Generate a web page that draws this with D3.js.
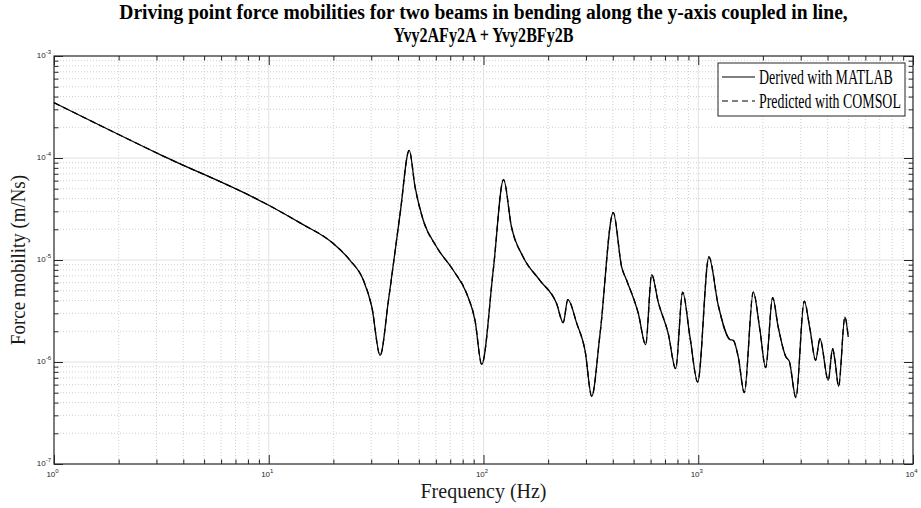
<!DOCTYPE html>
<html>
<head>
<meta charset="utf-8">
<script src="https://cdn.jsdelivr.net/npm/d3@7"></script>
<style>
  body { margin: 0; background: #fff; }
  svg { display: block; }
</style>
</head>
<body>
<svg id="chart" width="921" height="508"></svg>
<script>
// Driving point force mobility of two in-line coupled beams (bending, y-axis)
const freqHz = [
  1, 3.12, 10, 13.99, 19.98, 23.9, 27.6, 30.2, 33.0, 36.1,
  40.9, 45.1, 48.0, 52.4, 60.5, 72.3, 83.5, 91.3, 98.1, 111,
  124, 135, 153, 183, 219, 235, 247, 272, 297, 319,
  349, 402, 440, 464, 526, 569, 607, 651, 725, 785,
  846, 915, 994, 1121, 1239, 1405, 1456, 1536, 1638, 1804,
  1938, 2060, 2220, 2357, 2561, 2653, 2850, 3115, 3311, 3521,
  3687, 4030, 4224, 4329, 4504, 4819, 4993
];
const matlabMobility = [
  3.49e-4, 1.08e-4, 3.44e-5, 2.31e-5, 1.45e-5, 9.93e-6, 6.32e-6, 3.46e-6, 1.16e-6, 4.03e-6,
  2.85e-5, 1.19e-4, 5.20e-5, 2.45e-5, 1.34e-5, 7.93e-6, 4.69e-6, 2.56e-6, 9.48e-7, 7.93e-6,
  6.14e-5, 2.11e-5, 1.07e-5, 6.32e-6, 3.74e-6, 2.43e-6, 4.09e-6, 2.38e-6, 1.30e-6, 4.61e-7,
  1.90e-6, 2.92e-5, 8.53e-6, 6.32e-6, 2.99e-6, 1.48e-6, 7.19e-6, 3.87e-6, 1.90e-6, 8.61e-7,
  4.85e-6, 1.76e-6, 6.37e-7, 1.07e-5, 3.60e-6, 1.66e-6, 1.63e-6, 1.12e-6, 5.01e-7, 4.85e-6,
  2.05e-6, 8.81e-7, 4.27e-6, 2.20e-6, 1.12e-6, 1.02e-6, 4.48e-7, 3.96e-6, 2.12e-6, 1.04e-6,
  1.69e-6, 6.62e-7, 1.35e-6, 1.04e-6, 5.78e-7, 2.76e-6, 1.76e-6
];
const comsolMobility = [
  3.49e-4, 1.08e-4, 3.44e-5, 2.31e-5, 1.45e-5, 9.93e-6, 6.32e-6, 3.46e-6, 1.16e-6, 4.03e-6,
  2.85e-5, 1.19e-4, 5.20e-5, 2.45e-5, 1.34e-5, 7.93e-6, 4.69e-6, 2.56e-6, 9.48e-7, 7.93e-6,
  6.14e-5, 2.11e-5, 1.07e-5, 6.32e-6, 3.74e-6, 2.43e-6, 4.09e-6, 2.38e-6, 1.30e-6, 4.61e-7,
  1.90e-6, 2.92e-5, 8.53e-6, 6.32e-6, 2.99e-6, 1.48e-6, 7.19e-6, 3.87e-6, 1.90e-6, 8.61e-7,
  4.85e-6, 1.76e-6, 6.37e-7, 1.07e-5, 3.60e-6, 1.66e-6, 1.63e-6, 1.12e-6, 5.01e-7, 4.85e-6,
  2.05e-6, 8.81e-7, 4.27e-6, 2.20e-6, 1.12e-6, 1.02e-6, 4.48e-7, 3.96e-6, 2.12e-6, 1.04e-6,
  1.69e-6, 6.62e-7, 1.35e-6, 1.04e-6, 5.78e-7, 2.76e-6, 1.76e-6
];
const xDecades = [1, 10, 100, 1000, 10000];
const xExponents = ["0", "1", "2", "3", "4"];
const yDecades = [1e-7, 1e-6, 1e-5, 1e-4, 1e-3];
const yExponents = ["-7", "-6", "-5", "-4", "-3"];
const seriesNames = ["Derived with MATLAB", "Predicted with COMSOL"];
const titleLines = [
  "Driving point force mobilities for two beams in bending along the y-axis coupled in line,",
  "Yvy2AFy2A + Yvy2BFy2B"
];
const xLabel = "Frequency (Hz)";
const yLabel = "Force mobility (m/Ns)";

const L = 54, R = 913, T = 56, B = 464;
const axisColor = "#262626";
const serif = "'Liberation Serif', 'Times New Roman', serif";
const sans = "'Liberation Sans', Arial, Helvetica, sans-serif";

const svg = d3.select("#chart");
const x = d3.scaleLog().domain([1, 1e4]).range([L, R]);
const y = d3.scaleLog().domain([1e-7, 1e-3]).range([B, T]);

const xMinor = [], yMinor = [];
xDecades.slice(0, -1).forEach(d => { for (let k = 2; k < 10; k++) xMinor.push(d * k); });
yDecades.slice(0, -1).forEach(d => { for (let k = 2; k < 10; k++) yMinor.push(d * k); });

// grid: dotted minor lines, solid light major lines
const grid = svg.append("g");
grid.selectAll(".gxm").data(xMinor).join("line")
  .attr("x1", d => x(d)).attr("x2", d => x(d)).attr("y1", T).attr("y2", B)
  .attr("stroke", "#c4c4c4").attr("stroke-width", 0.8).attr("stroke-dasharray", "1,2");
grid.selectAll(".gym").data(yMinor).join("line")
  .attr("y1", d => y(d)).attr("y2", d => y(d)).attr("x1", L).attr("x2", R)
  .attr("stroke", "#c4c4c4").attr("stroke-width", 0.8).attr("stroke-dasharray", "1,2");
grid.selectAll(".gxM").data(xDecades.slice(1, -1)).join("line")
  .attr("x1", d => x(d)).attr("x2", d => x(d)).attr("y1", T).attr("y2", B)
  .attr("stroke", "#e2e2e2").attr("stroke-width", 1);
grid.selectAll(".gyM").data(yDecades.slice(1, -1)).join("line")
  .attr("y1", d => y(d)).attr("y2", d => y(d)).attr("x1", L).attr("x2", R)
  .attr("stroke", "#e2e2e2").attr("stroke-width", 1);

// inward ticks on all four sides
function ticks(gen, pos, values, size) {
  const g = svg.append("g").attr("transform", pos)
    .call(gen.tickValues(values).tickSize(-size).tickSizeOuter(0).tickFormat(""));
  g.select(".domain").remove();
  g.selectAll("line").attr("stroke", axisColor).attr("stroke-width", 1);
}
ticks(d3.axisBottom(x), `translate(0,${B})`, xDecades, 9);
ticks(d3.axisBottom(x), `translate(0,${B})`, xMinor, 4.5);
ticks(d3.axisTop(x), `translate(0,${T})`, xDecades, 9);
ticks(d3.axisTop(x), `translate(0,${T})`, xMinor, 4.5);
ticks(d3.axisLeft(y), `translate(${L},0)`, yDecades, 9);
ticks(d3.axisLeft(y), `translate(${L},0)`, yMinor, 4.5);
ticks(d3.axisRight(y), `translate(${R},0)`, yDecades, 9);
ticks(d3.axisRight(y), `translate(${R},0)`, yMinor, 4.5);

svg.append("rect").attr("x", L).attr("y", T).attr("width", R - L).attr("height", B - T)
  .attr("fill", "none").attr("stroke", axisColor).attr("stroke-width", 1.2);

// decade tick labels with superscript exponents
const xl = svg.append("g").attr("font-family", sans).attr("fill", axisColor);
xDecades.forEach((d, i) => {
  const t = xl.append("text").attr("x", x(d) - 1.5).attr("y", B + 13)
    .attr("text-anchor", "middle").attr("font-size", 8).text("10");
  t.append("tspan").attr("dy", -4).attr("font-size", 6).text(xExponents[i]);
});
const yl = svg.append("g").attr("font-family", sans).attr("fill", axisColor);
yDecades.forEach((d, i) => {
  const t = yl.append("text").attr("x", L - 3).attr("y", y(d) + 2)
    .attr("text-anchor", "end").attr("font-size", 8).text("10");
  t.append("tspan").attr("dy", -4).attr("font-size", 6).text(yExponents[i]);
});

// curves
const line = d3.line()
  .x(d => x(d[0])).y(d => y(d[1]))
  .curve(d3.curveMonotoneX);
svg.append("path").datum(freqHz.map((f, i) => [f, matlabMobility[i]]))
  .attr("d", line).attr("fill", "none").attr("stroke", "#000").attr("stroke-width", 1.3)
  .attr("stroke-linejoin", "round");
svg.append("path").datum(freqHz.map((f, i) => [f, comsolMobility[i]]))
  .attr("d", line).attr("fill", "none").attr("stroke", "#000").attr("stroke-width", 1.3)
  .attr("stroke-dasharray", "6,4");

// condensed serif text: drawn at its natural size, then narrowed to a set width
function condensed(parent, str, px, py, width, opts) {
  const t = parent.append("text")
    .attr("font-family", serif).attr("font-size", opts.size)
    .attr("font-weight", opts.bold ? "bold" : "normal")
    .attr("fill", opts.fill || "#000")
    .attr("text-anchor", opts.anchor || "start")
    .text(str);
  const k = Math.min(1, width / t.node().getComputedTextLength());
  const rot = opts.rotate ? ` rotate(${opts.rotate})` : "";
  t.attr("transform", `translate(${px},${py})${rot} scale(${k},1)`);
  return t;
}

// legend
const lg = svg.append("g");
lg.append("rect").attr("x", 718).attr("y", 63).attr("width", 187).attr("height", 53)
  .attr("fill", "#fff").attr("stroke", axisColor).attr("stroke-width", 1);
const dashes = [null, "6,4"];
const legendWidths = [134, 142];
seriesNames.forEach((name, i) => {
  const cy = 77 + i * 24;
  lg.append("line").attr("x1", 722).attr("x2", 755).attr("y1", cy).attr("y2", cy)
    .attr("stroke", "#000").attr("stroke-width", 1.2)
    .attr("stroke-dasharray", dashes[i]);
  condensed(lg, name, 759, cy + 6.5, legendWidths[i], { size: 20 });
});

// titles and axis labels
const cx = (L + R) / 2;
condensed(svg, titleLines[0], cx, 19, 729, { size: 20, bold: true, anchor: "middle" });
condensed(svg, titleLines[1], cx, 42, 180, { size: 20, bold: true, anchor: "middle" });
condensed(svg, xLabel, cx, 498, 131, { size: 20, anchor: "middle", fill: "#1a1a1a" });
condensed(svg, yLabel, 25, (T + B) / 2, 170, { size: 20, anchor: "middle", fill: "#1a1a1a", rotate: -90 });
</script>
</body>
</html>
